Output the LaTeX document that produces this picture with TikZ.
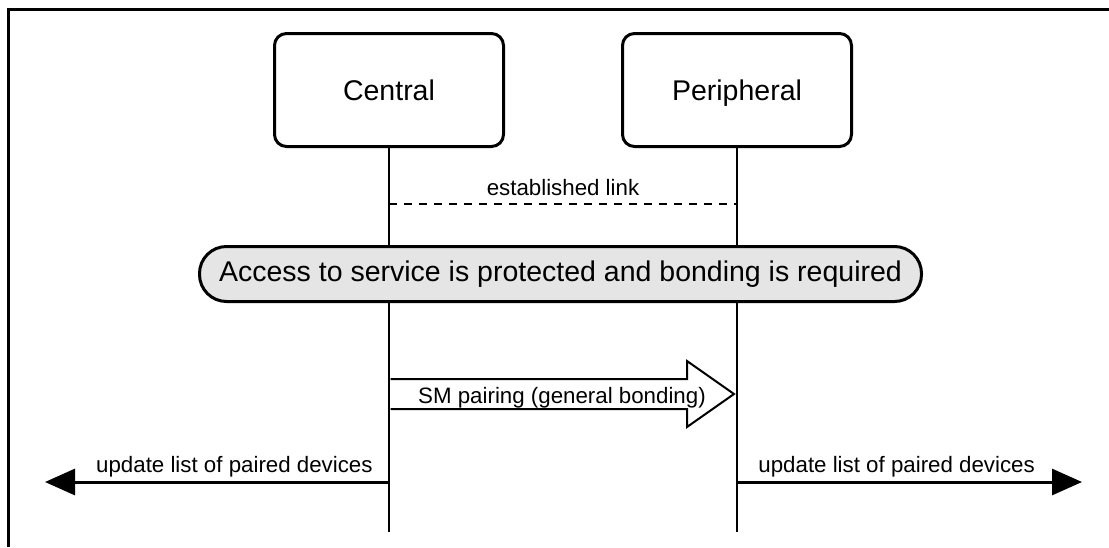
\documentclass[tikz,border=0pt]{standalone}
\usepackage{fontspec}
\setmainfont{Liberation Sans}
\usetikzlibrary{arrows.meta}

\tikzset{
  actor/.style={draw, line width=1.5pt, rounded corners=6pt,
    minimum width=114.5pt, minimum height=56.5pt,
    font=\fontsize{14.25}{17}\selectfont, text depth=0pt},
  lifeline/.style={line width=1.4pt},
  msg/.style={font=\fontsize{11.15}{13}\selectfont, inner sep=0pt},
  linkline/.style={line width=1.4pt, dash pattern=on 4pt off 3.5pt},
  bigarrow/.style={-{Triangle[length=15pt,width=13pt]}, line width=1.5pt},
}

\begin{document}
\begin{tikzpicture}[x=0.5pt, y=-0.5pt]
  \useasboundingbox (0,0) rectangle (1109,547);

  % frame -- only top and left edges show
  \draw[line width=1.5pt] (1109,9) -- (8,9) -- (8,547);

  % the two devices
  \node[actor] (central) at (389,90) {Central};
  \node[actor] (periph)  at (737,90) {Peripheral};

  % lifelines
  \coordinate (centralEnd) at (389,532);
  \coordinate (periphEnd)  at (737,532);
  \draw[lifeline] (central.south) -- (centralEnd);
  \draw[lifeline] (periph.south) -- (periphEnd);

  % established link
  \coordinate (centralLink) at (389,204);
  \coordinate (periphLink)  at (737,204);
  \draw[linkline] (centralLink) -- (periphLink);
  \node[msg, anchor=base] (linkLbl) at (563,195) {established link};

  % condition banner across both lifelines
  \node[draw, line width=1.5pt, fill=gray!20, rounded corners=13.5pt,
        minimum width=361pt, minimum height=27.5pt,
        font=\fontsize{14.25}{17}\selectfont] (cond) at (560.5,274)
    {Access to service is protected and bonding is required};

  % SM pairing -- hollow block arrow
  \filldraw[fill=white, line width=1pt]
    (390.5,379) -- (687,379) -- (687,361) -- (734,394)
    -- (687,427) -- (687,409) -- (390.5,409);
  \node[msg, anchor=base] (smLbl) at (562,403) {SM pairing (general bonding)};

  % local updates on each side
  \coordinate (centralUpd) at (389,482);
  \coordinate (leftEnd)    at (45,482);
  \coordinate (periphUpd)  at (737,482);
  \coordinate (rightEnd)   at (1082,482);
  \draw[bigarrow] (centralUpd) -- (leftEnd);
  \draw[bigarrow] (periphUpd) -- (rightEnd);
  \node[msg, anchor=base east] (centralUpdLbl) at (373,472) {update list of paired devices};
  \node[msg, anchor=base west] (periphUpdLbl)  at (758,472) {update list of paired devices};

\end{tikzpicture}
\end{document}
